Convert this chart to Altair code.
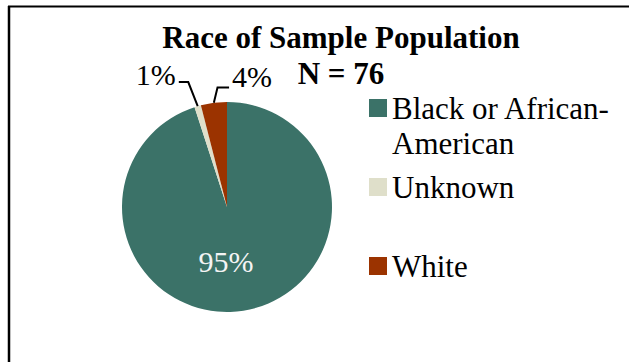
import math

import altair as alt
import pandas as pd

# --- data ---------------------------------------------------------------
categories = ["Black or African-American", "Unknown", "White"]
percents = [95, 1, 4]
legend_labels = ["Black or African-\nAmerican", "Unknown", "White"]
colors = ["#3b7268", "#dfdfca", "#9b3300"]
title_lines = ["Race of Sample Population", "N = 76"]

# --- layout -------------------------------------------------------------
W, H = 629, 362
CX, CY, R = 227, 207, 105          # pie centre and radius (px)
FONT = "Liberation Serif"

# leader elbows for the small slices, in pie-radius units:
# (elbow dx, elbow dy, horizontal run)
leader_layout = {"Unknown": (-0.09, 0.23, -0.09), "White": (0.035, 0.145, 0.11)}

slices = pd.DataFrame({
    "category": categories,
    "pct": percents,
    "order": list(range(len(categories))),
    "legend": legend_labels,
    "row": list(range(len(categories))),
})
slices["inner"] = [f"{p}%" if p >= 50 else "" for p in percents]

# leader lines start at each small slice's mid-angle on the rim
total = sum(percents)
rows = []
start = 0
for cat, p in zip(categories, percents):
    mid = (start + p / 2) / total * 2 * math.pi
    start += p
    if cat not in leader_layout:
        continue
    ex, ey = math.sin(mid), math.cos(mid)
    dx, dy, run = leader_layout[cat]
    kx, ky = ex + dx, ey + dy
    for step, (x, y) in enumerate([(ex, ey), (kx, ky), (kx + run, ky)]):
        rows.append({"category": cat, "step": step, "x": x, "y": y,
                     "label": f"{p}%", "side": "left" if run < 0 else "right"})
leaders = pd.DataFrame(rows)

color_scale = alt.Scale(domain=categories, range=colors)
x_unit = alt.Scale(domain=[-CX / R, (W - CX) / R], nice=False, zero=False)
y_unit = alt.Scale(domain=[(CY - H) / R, CY / R], nice=False, zero=False)

# --- frame ---------------------------------------------------------------
one = pd.DataFrame({"k": [0]})
frame_left = alt.Chart(one).mark_rule(color="black", strokeWidth=2.5).encode(
    x=alt.value(9), y=alt.value(6), y2=alt.value(H))
frame_top = alt.Chart(one).mark_rule(color="black", strokeWidth=2).encode(
    x=alt.value(8), x2=alt.value(W), y=alt.value(6.5))

# --- pie -----------------------------------------------------------------
pie = alt.Chart(slices).mark_arc(outerRadius=R).encode(
    theta=alt.Theta("pct:Q", stack=True),
    order=alt.Order("order:Q"),
    color=alt.Color("category:N", scale=color_scale, legend=None),
    x=alt.value(CX),
    y=alt.value(CY),
)

inner_text = alt.Chart(slices).mark_text(
    font=FONT, fontSize=30, color="#f4f4f4", radius=57, dx=-10,
    baseline="middle",
).encode(
    theta=alt.Theta("pct:Q", stack=True),
    order=alt.Order("order:Q"),
    text="inner:N",
    x=alt.value(CX),
    y=alt.value(CY),
)

# --- leader lines and their labels ---------------------------------------
leader_lines = alt.Chart(leaders).mark_line(color="black", strokeWidth=2).encode(
    x=alt.X("x:Q", scale=x_unit, axis=None),
    y=alt.Y("y:Q", scale=y_unit, axis=None),
    detail="category:N",
    order="step:Q",
)

ends = alt.Chart(leaders).transform_filter("datum.step == 2")
label_left = ends.transform_filter("datum.side == 'left'").mark_text(
    font=FONT, fontSize=30, align="right", baseline="middle", dx=-3, dy=-6,
    color="black",
).encode(
    x=alt.X("x:Q", scale=x_unit, axis=None),
    y=alt.Y("y:Q", scale=y_unit, axis=None),
    text="label:N",
)
label_right = ends.transform_filter("datum.side == 'right'").mark_text(
    font=FONT, fontSize=30, align="left", baseline="middle", dx=3, dy=-10,
    color="black",
).encode(
    x=alt.X("x:Q", scale=x_unit, axis=None),
    y=alt.Y("y:Q", scale=y_unit, axis=None),
    text="label:N",
)

# --- title ---------------------------------------------------------------
title_df = pd.DataFrame({"t": ["\n".join(title_lines)]})
title = alt.Chart(title_df).mark_text(
    font=FONT, fontSize=31, fontWeight="bold", align="center",
    baseline="alphabetic", lineBreak="\n", lineHeight=36, color="black",
).encode(x=alt.value(341), y=alt.value(48), text="t:N")

# --- legend --------------------------------------------------------------
row_scale = alt.Scale(domain=[0, len(categories) - 1], range=[108, 266])
legend_swatch = alt.Chart(slices).mark_square(size=324, opacity=1).encode(
    x=alt.value(378),
    y=alt.Y("row:Q", scale=row_scale, axis=None),
    color=alt.Color("category:N", scale=color_scale, legend=None),
)
legend_text = alt.Chart(slices).mark_text(
    font=FONT, fontSize=31, align="left", baseline="alphabetic", dy=11,
    lineBreak="\n", lineHeight=35, color="black",
).encode(
    x=alt.value(392),
    y=alt.Y("row:Q", scale=row_scale, axis=None),
    text="legend:N",
)

chart = alt.layer(
    frame_left, frame_top, pie, inner_text,
    leader_lines, label_left, label_right,
    title, legend_swatch, legend_text,
).resolve_scale(
    x="independent", y="independent",
).properties(
    width=W, height=H, padding=0, background="white",
    autosize=alt.AutoSizeParams(type="none"),
).configure_view(stroke=None)

chart.save("out.html", embed_options={"renderer": "svg", "actions": False})
